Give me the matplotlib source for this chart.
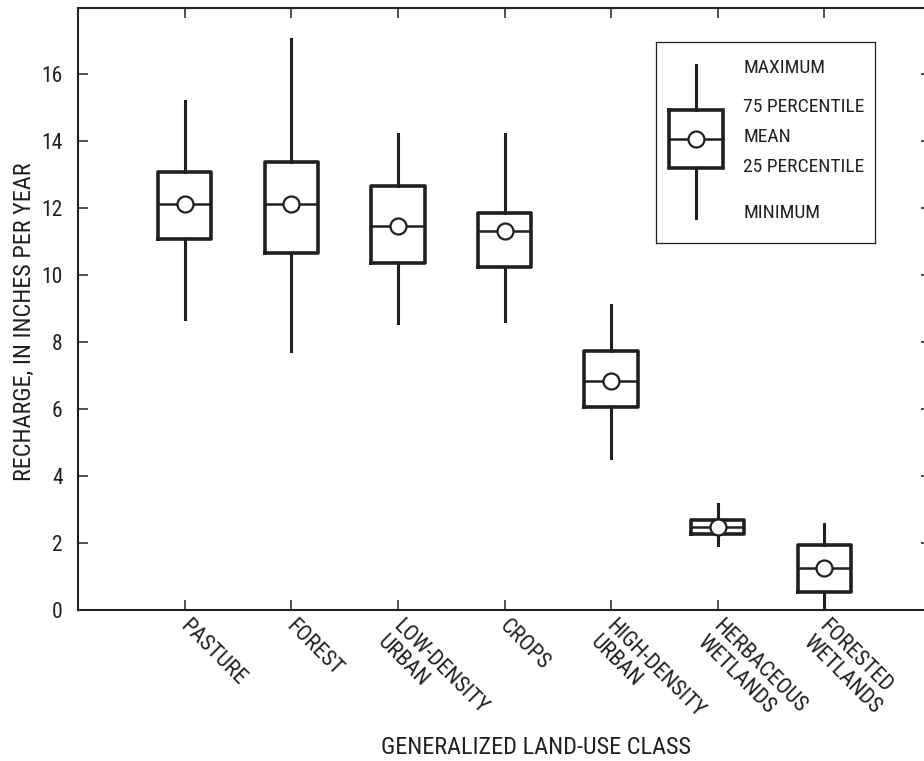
import matplotlib
matplotlib.use("Agg")
import matplotlib.pyplot as plt
from matplotlib import font_manager

# Recharge statistics by generalized land-use class (inches per year)
categories = ["PASTURE", "FOREST", "LOW-DENSITY\nURBAN", "CROPS",
              "HIGH-DENSITY\nURBAN", "HERBACEOUS\nWETLANDS", "FORESTED\nWETLANDS"]
maxima = [15.20, 17.07, 14.22, 14.22, 9.10, 3.18, 2.58]
pct75 = [13.09, 13.37, 12.68, 11.86, 7.75, 2.69, 1.93]
means = [12.13, 12.13, 11.47, 11.31, 6.85, 2.48, 1.24]
pct25 = [11.09, 10.66, 10.38, 10.25, 6.05, 2.27, 0.55]
minima = [8.69, 7.74, 8.57, 8.63, 4.55, 1.94, 0.05]

y_ticks = [0, 2, 4, 6, 8, 10, 12, 14, 16]
legend_labels = ["MAXIMUM", "75 PERCENTILE", "MEAN", "25 PERCENTILE", "MINIMUM"]


def pick_family():
    for fam in ["Liberation Sans Narrow", "Arial Narrow", "Roboto Condensed"]:
        try:
            font_manager.findfont(font_manager.FontProperties(family=fam),
                                  fallback_to_default=False)
            return fam
        except Exception:
            continue
    return "Liberation Sans"


FAM = pick_family()
plt.rcParams["font.family"] = [FAM, "DejaVu Sans"]

INK = "#231f20"
W, H = 924, 761
fig = plt.figure(figsize=(W / 100, H / 100), dpi=100)

# axes placed in pixel terms: left spine x=78, bottom y=610, top y=7.5
ax_l, ax_r, ax_t, ax_b = 78, 931, 7.5, 610
ax = fig.add_axes([ax_l / W, (H - ax_b) / H, (ax_r - ax_l) / W, (ax_b - ax_t) / H])

stats = []
for lab, lo, q1, m, q3, hi in zip(categories, minima, pct25, means, pct75, maxima):
    stats.append(dict(label=lab, whislo=lo, q1=q1, med=m, q3=q3, whishi=hi,
                      mean=m, fliers=[]))

positions = list(range(1, len(categories) + 1))
ax.bxp(stats, positions=positions, widths=0.5, showcaps=False, showfliers=False,
       showmeans=True, patch_artist=False,
       boxprops=dict(color=INK, linewidth=2.6),
       whiskerprops=dict(color=INK, linewidth=2.2),
       medianprops=dict(color=INK, linewidth=1.8),
       meanprops=dict(marker="o", markersize=11.5, markerfacecolor="white",
                      markeredgecolor=INK, markeredgewidth=1.6))

ax.set_xlim(0, 8)
ax.set_ylim(0, 18)
ax.set_yticks(y_ticks)
ax.set_yticklabels([str(v) for v in y_ticks], fontsize=15.5, color=INK)
ax.set_xticks(positions)
ax.set_xticklabels([])
ax.tick_params(axis="both", direction="in", length=7.5, width=1.1, color=INK,
               top=True, right=True)
ax.tick_params(axis="y", pad=11)
for s in ax.spines.values():
    s.set_linewidth(1.5)
    s.set_color(INK)

# rotated category labels hanging from each tick
for x, lab in zip(positions, categories):
    ax.annotate(lab, xy=(x, 0), xycoords="data", xytext=(4, -4),
                textcoords="offset points", rotation=-45, rotation_mode="anchor",
                ha="left", va="top", ma="left", fontsize=16, color=INK,
                linespacing=1.1)

fig.text(536 / W, 1 - 748 / H, "GENERALIZED LAND-USE CLASS", ha="center",
         va="center", fontsize=17.5, color=INK)
fig.text(24 / W, 1 - 322 / H, "RECHARGE, IN INCHES PER YEAR", ha="center",
         va="center", rotation=90, fontsize=17.5, color=INK)

# explanation box, drawn in its own pixel-unit axes
lx0, ly0, lw, lh = 655.7, 42.3, 219.3, 201.0
lg = fig.add_axes([lx0 / W, (H - ly0 - lh) / H, lw / W, lh / H])
lg.set_xlim(0, lw)
lg.set_ylim(lh, 0)
lg.set_xticks([])
lg.set_yticks([])
for s in lg.spines.values():
    s.set_linewidth(0.9)
    s.set_color(INK)

gx, gy_top, gq3, gm, gq1, gy_bot = 40.3, 22.7, 67.7, 97.0, 126.0, 175.4
bx0, bx1 = 13.3, 67.6
lg.plot([gx, gx], [gy_top, gq3], color=INK, lw=2.2)
lg.plot([gx, gx], [gq1, gy_bot], color=INK, lw=2.2)
lg.plot([bx0, bx1, bx1, bx0, bx0], [gq3, gq3, gq1, gq1, gq3], color=INK,
        lw=2.6, solid_joinstyle="miter")
lg.plot([bx0, bx1], [gm, gm], color=INK, lw=1.8)
lg.plot([gx], [gm], marker="o", markersize=11.5, markerfacecolor="white",
        markeredgecolor=INK, markeredgewidth=1.6)

text_y = [25.4, 65.0, 95.0, 125.0, 171.0]
for ty, lab in zip(text_y, legend_labels):
    lg.text(87.6, ty, lab, ha="left", va="center", fontsize=14, color=INK)

fig.savefig("out.png", dpi=100)
